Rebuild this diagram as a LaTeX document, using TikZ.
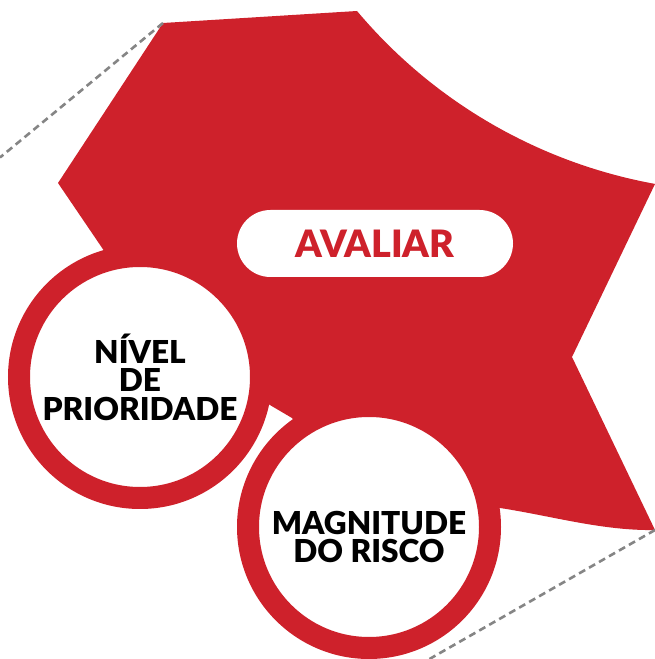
\documentclass[tikz,border=0pt]{standalone}
\usepackage{fontspec}
\setmainfont{Lato}[BoldFont={Lato Black}]
\usepackage{xcolor}
\usetikzlibrary{positioning}

\definecolor{avred}{HTML}{CE212B}
\definecolor{guidegray}{HTML}{858585}

\begin{document}
\begin{tikzpicture}[x=1pt, y=1pt, every node/.style={font=\bfseries}]
  \tikzset{ring/.style={circle, draw=avred, line width=22pt, fill=white, minimum size=242pt, inner sep=0pt}}
  \tikzset{ringtext/.style={align=center, inner sep=0pt, font=\fontsize{31.6}{28.5}\selectfont\bfseries}}
  \tikzset{pill/.style={rectangle, rounded corners=33.5pt, fill=white, minimum width=276pt, minimum height=67pt, inner sep=0pt, text=avred, font=\fontsize{37.7}{40}\selectfont\bfseries}}
  \tikzset{guide/.style={guidegray, line width=2.6pt, dash pattern=on 7pt off 4.5pt}}
  \useasboundingbox (0,0) rectangle (655,659);

  % corners of the red shape
  \coordinate (tl) at (163,636);
  \coordinate (tr) at (357,648);
  \coordinate (notch) at (572,302);
  \coordinate (br) at (655,129);
  \coordinate (bl) at (500,151);
  \coordinate (lt) at (58,476);
  \coordinate (tlend) at (0,501.5);
  \coordinate (brend) at (429.5,0);

  \fill[avred] (tl) -- (tr) arc[start angle=220.05, end angle=259.7, radius=508pt]
    -- (notch) -- (br) .. controls (603,128) and (552,143) .. (bl)
    -- (369,132) -- (292,241) -- (168,314) -- (lt) -- cycle;

  \draw[guide] (tl) -- (tlend);
  \draw[guide] (br) -- (brend);

  \node[pill] (avaliar) at (375,415.5) {AVALIAR};

  \node[ring] (nivel) at (140,282) {};
  \node[ring] (magnitude) at (369,132) {};
  \node[ringtext] (niveltext) at ([yshift=0pt]nivel.center) {NÍVEL\\DE\\PRIORIDADE};
  \node[ringtext] (magtext) at ([yshift=-10pt]magnitude.center) {MAGNITUDE\\DO RISCO};
\end{tikzpicture}
\end{document}
